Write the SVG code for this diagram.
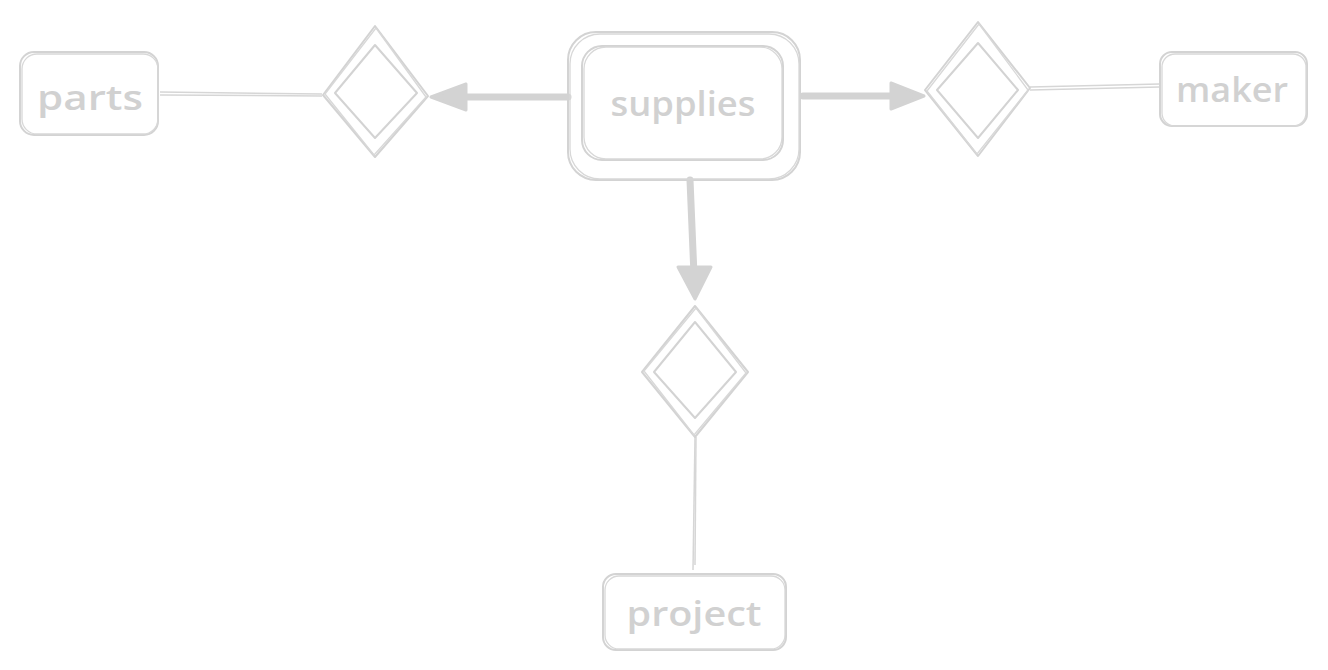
<svg xmlns="http://www.w3.org/2000/svg" width="1328" height="670" viewBox="0 0 1328 670">
<defs>
<style>
.s{fill:none;stroke:#d3d3d3;stroke-width:2;stroke-linecap:round;stroke-linejoin:round}
.s2{fill:none;stroke:#d8d8d8;stroke-width:1.3;stroke-linecap:round;stroke-linejoin:round}
.t{fill:#d1d1d1;font-family:"Open Sans","Liberation Sans",sans-serif;font-size:34px;font-weight:600;text-anchor:middle;dominant-baseline:central}
.thick{fill:none;stroke:#d3d3d3;stroke-width:7;stroke-linecap:round}
.thin{fill:none;stroke:#d6d6d6;stroke-width:1.5}
.head{fill:#d3d3d3;stroke:#d3d3d3;stroke-width:3;stroke-linejoin:round}
</style>
</defs>
<rect width="1328" height="670" fill="#ffffff"/>
<g id="connectors">
<line class="thin" x1="160" y1="92" x2="322" y2="94"/>
<line class="thin" x1="160" y1="95" x2="322" y2="96"/>
<line class="thick" x1="568" y1="97" x2="455" y2="97"/>
<path class="head" d="M431,97 L466,84 L466,110 Z"/>
<line class="thick" x1="803" y1="96" x2="900" y2="96"/>
<path class="head" d="M924,96 L891,83 L891,109 Z"/>
<line class="thick" x1="690" y1="180" x2="694" y2="275"/>
<path class="head" d="M695,299 L678,267 L711,267 Z"/>
<line class="thin" x1="1030" y1="87" x2="1160" y2="84"/>
<line class="thin" x1="1030" y1="90" x2="1160" y2="87"/>
<line class="thin" x1="695" y1="437" x2="693" y2="570"/>
<line class="thin" x1="696" y1="437" x2="695" y2="565"/>
</g>
<g id="parts">
<rect class="s" x="20" y="52" width="138" height="83" rx="14"/>
<rect class="s2" x="22" y="54" width="136" height="80" rx="15"/>
<text class="t" x="90" y="97" textLength="106" lengthAdjust="spacingAndGlyphs">parts</text>
</g>
<g id="rel-left">
<path class="s" d="M375,26 L428,96 L375,157 L323,95 Z"/>
<path class="s2" d="M376,28 L426,97 L374,155 L325,94 Z"/>
<path class="s" d="M375,45 L417,93 L375,138 L335,93 Z"/>
</g>
<g id="supplies">
<rect class="s" x="568" y="32" width="232" height="148" rx="28"/>
<rect class="s2" x="570" y="34" width="229" height="145" rx="30"/>
<rect class="s" x="582" y="46" width="201" height="114" rx="20"/>
<rect class="s2" x="584" y="47" width="198" height="112" rx="22"/>
<text class="t" x="683" y="103" textLength="145" lengthAdjust="spacingAndGlyphs">supplies</text>
</g>
<g id="rel-right">
<path class="s" d="M978,22 L1030,88 L978,156 L925,90 Z"/>
<path class="s2" d="M979,24 L1028,90 L977,154 L927,91 Z"/>
<path class="s" d="M978,43 L1018,90 L978,138 L937,90 Z"/>
</g>
<g id="maker">
<rect class="s" x="1160" y="52" width="147" height="74" rx="12"/>
<rect class="s2" x="1162" y="54" width="144" height="72" rx="13"/>
<text class="t" x="1232" y="89" textLength="112" lengthAdjust="spacingAndGlyphs">maker</text>
</g>
<g id="rel-bottom">
<path class="s" d="M695,306 L748,372 L695,437 L642,372 Z"/>
<path class="s2" d="M696,308 L746,373 L694,435 L644,371 Z"/>
<path class="s" d="M695,322 L736,372 L695,418 L654,372 Z"/>
</g>
<g id="project">
<rect class="s" x="603" y="574" width="183" height="76" rx="13"/>
<rect class="s2" x="605" y="576" width="180" height="73" rx="14"/>
<text class="t" x="694" y="613" textLength="135" lengthAdjust="spacingAndGlyphs">project</text>
</g>
</svg>
